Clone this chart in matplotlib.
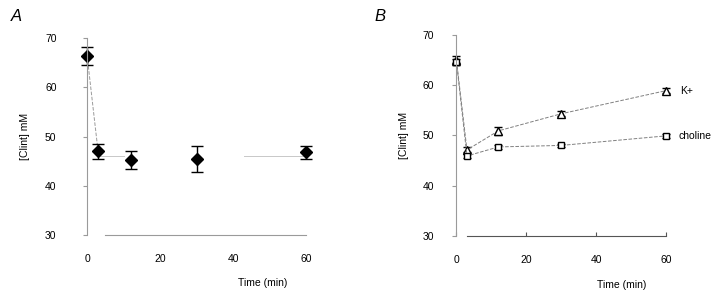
import numpy as np
import matplotlib
matplotlib.use("Agg")
import matplotlib.pyplot as plt

plt.rcParams['font.family'] = ['Liberation Sans', 'DejaVu Sans']

# panel A: [Cl-]i after the switch, mean +/- error
time_a = [0, 3, 12, 30, 60]
cl_a = [66.4, 47.0, 45.2, 45.4, 46.9]
err_lo_a = [1.9, 1.6, 1.7, 2.7, 1.5]
err_hi_a = [1.8, 1.4, 1.8, 2.7, 1.2]

# panel B: two series, K+ and choline
time_b = [0, 3, 12, 30, 60]
cl_k = [64.9, 47.1, 50.9, 54.3, 58.9]
err_k = [0.8, 0.5, 0.8, 0.5, 0.5]
cl_chol = [64.6, 45.9, 47.7, 48.0, 49.9]
err_chol = [0.6, 0.4, 0.4, 0.3, 0.4]

xticks = [0, 20, 40, 60]
yticks = [30, 40, 50, 60, 70]

fig = plt.figure(figsize=(7.2, 2.93), dpi=100)
ax1 = fig.add_axes([0.121, 0.198, 0.304, 0.672])
ax2 = fig.add_axes([0.634, 0.195, 0.291, 0.686])

grey = '#9a9a9a'

def setup(ax, ypad):
    ax.set_xlim(0, 60)
    ax.set_ylim(30, 70)
    ax.set_xticks(xticks)
    ax.set_yticks(yticks)
    for s in ['top', 'right']:
        ax.spines[s].set_visible(False)
    ax.spines['left'].set_color(grey)
    ax.spines['left'].set_linewidth(0.8)
    ax.spines['bottom'].set_color(grey)
    ax.spines['bottom'].set_linewidth(0.8)
    ax.tick_params(axis='y', length=3, color=grey, pad=ypad, labelsize=7.5)
    ax.tick_params(axis='x', length=0, pad=14, labelsize=7.5)
    ax.set_xlabel('Time (min)', fontsize=7.5)
    ax.xaxis.set_label_coords(0.80, -0.218)
    ax.set_ylabel('[Clint] mM', fontsize=7.5)

# panel A
setup(ax1, 19)
ax1.spines['bottom'].set_bounds(5, 60)
ax1.yaxis.set_label_coords(-0.262, 0.5)
ax1.plot(time_a[:2], cl_a[:2], color=grey, lw=0.7, ls='--', clip_on=False)
ax1.plot([3, 10], [46, 46], color='#c8c8c8', lw=0.7)
ax1.plot([43, 60], [46, 46], color='#c8c8c8', lw=0.7)
ax1.errorbar(time_a, cl_a, yerr=[err_lo_a, err_hi_a], fmt='D', color='black',
             ms=6, capsize=4, elinewidth=1, capthick=1, clip_on=False)
fig.text(0.015, 0.93, 'A', fontsize=12, style='italic')

# panel B
setup(ax2, 13)
ax2.spines['bottom'].set_bounds(3, 60)
ax2.spines['bottom'].set_color('#555555')
ax2.tick_params(axis='x', direction='in', length=3, color='#555555')
ax2.xaxis.set_label_coords(0.79, -0.219)
ax2.yaxis.set_label_coords(-0.228, 0.5)
ax2.errorbar(time_b, cl_k, yerr=err_k, fmt='^-', color='#808080', mfc='white',
             mec='black', ms=6, lw=0.7, ls='--', ecolor='black', capsize=3,
             elinewidth=0.8, clip_on=False)
ax2.errorbar(time_b, cl_chol, yerr=err_chol, fmt='s-', color='#808080', mfc='white',
             mec='black', ms=5, lw=0.7, ls='--', ecolor='black', capsize=3,
             elinewidth=0.8, clip_on=False)
ax2.text(64, cl_k[-1], 'K+', fontsize=7.5, va='center')
ax2.text(63.5, cl_chol[-1], 'choline', fontsize=7.5, va='center')
fig.text(0.52, 0.93, 'B', fontsize=12, style='italic')

fig.savefig('out.png', dpi=100)
